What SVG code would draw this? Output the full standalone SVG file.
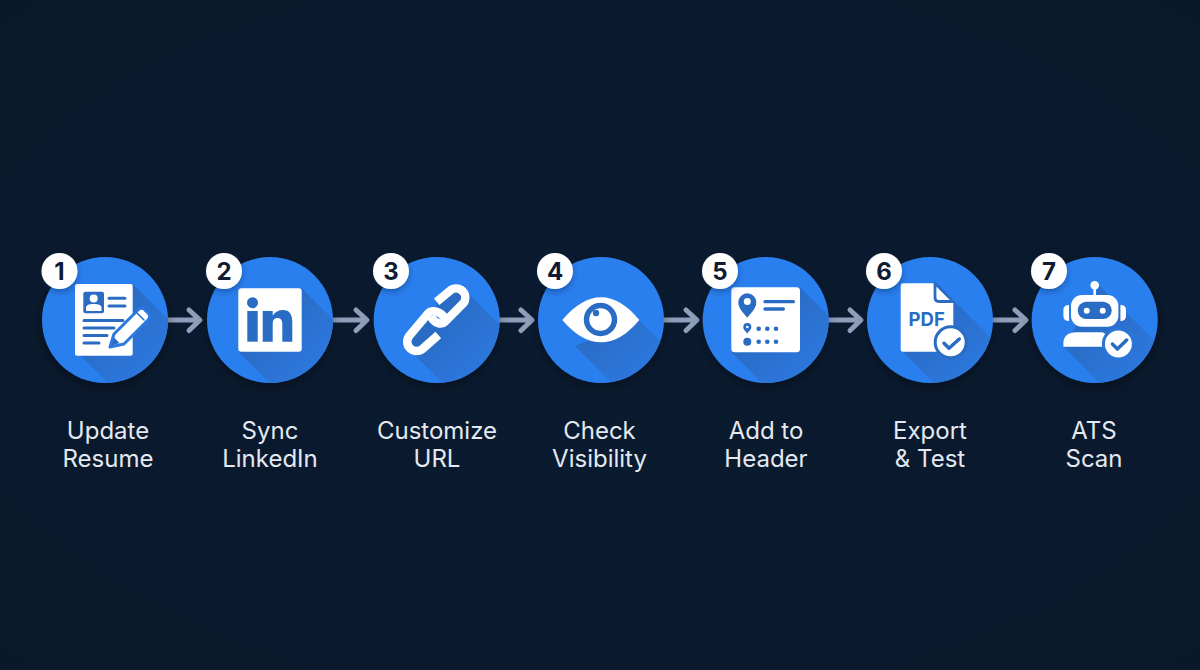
<svg xmlns="http://www.w3.org/2000/svg" width="1200" height="670" viewBox="0 0 1200 670">
<style>
.disc{fill:#2b7fee}
.ls{fill:url(#lsg)}
.w{fill:#fff}
.b{fill:#2a6cc4}
.bl{stroke:#2a6cc4;fill:none;stroke-linecap:round;stroke-linejoin:round}
.badge{fill:#fff;filter:url(#bs)}
.num{font:700 24px Inter,"Liberation Sans",sans-serif;fill:#0f1b33;text-anchor:middle}
.lab{font:400 24px Inter,"Liberation Sans",sans-serif;fill:#e4e9f1;text-anchor:middle}
.arr{fill:none;stroke:#8f9eba;stroke-width:5;stroke-linecap:round;stroke-linejoin:round}
.link{fill:none;stroke:#fff;stroke-width:8.500;stroke-linecap:butt;stroke-linejoin:round}
</style>
<defs>
<clipPath id="cc"><circle r="63"/></clipPath>
<linearGradient id="lsg" gradientUnits="userSpaceOnUse" x1="0" y1="0" x2="45" y2="45"><stop offset="0" stop-color="#2a6cc6"/><stop offset="1" stop-color="#2c77dc"/></linearGradient>
<radialGradient id="bg" cx="50%" cy="50%" r="75%"><stop offset="0" stop-color="#0a1b30"/><stop offset="1" stop-color="#0a182b"/></radialGradient>
<filter id="ds" x="-30%" y="-30%" width="160%" height="160%"><feDropShadow dx="0" dy="4" stdDeviation="6" flood-color="#000" flood-opacity=".35"/></filter>
<filter id="bs" x="-50%" y="-50%" width="200%" height="200%"><feDropShadow dx="0" dy="3" stdDeviation="3" flood-color="#06204d" flood-opacity=".4"/></filter>
</defs>
<rect width="1200" height="670" fill="url(#bg)"/>
<g id="connectors" class="arr">
<path d="M168 320H199M189 310l11 10-11 10.500"/>
<path d="M333 320H366M356 310l11 10-11 10.500"/>
<path d="M500 320H531M521 310l11 10-11 10.500"/>
<path d="M664 320H696M686 310l11 10-11 10.500"/>
<path d="M829 320H860M850 310l11 10-11 10.500"/>
<path d="M993 320H1025M1015 310l11 10-11 10.500"/>
</g>

<g id="node-1">
<g transform="translate(105 320)">
<circle class="disc" r="63" filter="url(#ds)"/>
<path class="ls" clip-path="url(#cc)" d="M27.700 -36L127.700 64L74 134L-26 34Z"/>
<rect class="w" x="-30" y="-36" width="57.700" height="71.700" rx="2"/>
<rect class="b" x="-21.700" y="-28.300" width="20.700" height="21.600" rx="2"/>
<circle class="w" cx="-11.300" cy="-21.500" r="4"/>
<path class="w" d="M-19 -9V-12C-19 -15.500 -15 -16 -11.300 -16S-3.500 -15.500 -3.500 -12V-9Z"/>
<path class="bl" stroke-width="3" d="M4 -21.700H20M4 -14H20M-21 0.500H18M-21 8H9M-21 15.500H2M-21 23H-6"/>
<path d="M5 27L9 14L33 -10C35 -12 38 -12 40 -10L43 -7C45 -5 45 -2 43 0L19 24Z" fill="#fff" stroke="#2b78e0" stroke-width="3" stroke-linejoin="round"/>
<path class="b" d="M6.500 25.500L9 17.500L14.500 23Z"/>
<path class="bl" stroke-width="1.500" d="M32 -7L39 0"/>
</g>
<circle class="badge" cx="59.500" cy="271" r="18"/>
<text class="num" x="59.500" y="280">1</text>
<text class="lab"><tspan x="108" y="439">Update</tspan><tspan x="108" y="467">Resume</tspan></text>
</g>

<g id="node-2">
<g transform="translate(270 320)">
<circle class="disc" r="63" filter="url(#ds)"/>
<path class="ls" clip-path="url(#cc)" d="M31.700 -31.700L131.700 68.300L68.300 131.700L-31.700 31.700Z"/>
<rect class="w" x="-31.700" y="-31.700" width="63.400" height="63.400" rx="3"/>
<circle class="b" cx="-17.500" cy="-17.300" r="5.500"/>
<rect class="b" x="-22.700" y="-9" width="10.400" height="30.700"/>
<path class="b" d="M-7.300 21.700V-9H2.700V-4.500C5 -8 8.500 -10 13 -10C19.500 -10 22.300 -5.500 22.300 2V21.700H12.300V4C12.300 0 10.500 -2 7.500 -2C4.500 -2 2.700 0 2.700 4V21.700Z"/>
</g>
<circle class="badge" cx="224" cy="271" r="18"/>
<text class="num" x="224" y="280">2</text>
<text class="lab"><tspan x="270" y="439">Sync</tspan><tspan x="270" y="467">LinkedIn</tspan></text>
</g>

<g id="node-3">
<g transform="translate(436.700 320)">
<circle class="disc" r="63" filter="url(#ds)"/>
<path class="ls" clip-path="url(#cc)" d="M28 -30L128 70L78 135L-22 35Z"/>
<path class="b" d="M0 -18.300L13.300 -29.300A9.200 9.200 0 0 1 26.600 -16.700L8.300 1.700L0 -4Z"/>
<path class="b" d="M1.600 15L-13.400 28.300A9.400 9.400 0 0 1 -26.700 15L-8.400 -6.700L0 0Z"/>
<path class="link" d="M0 -18.300L13.300 -29.300A9.200 9.200 0 0 1 26.600 -16.700L8.300 1.700C5 5 -2 4 -5.700 -3.300"/>
<path class="link" d="M1.600 15L-13.400 28.300A9.400 9.400 0 0 1 -26.700 15L-8.400 -6.700C-4 -11 4 -8 8.300 -1.700"/>
</g>
<circle class="badge" cx="391" cy="271" r="18"/>
<text class="num" x="391" y="280">3</text>
<text class="lab"><tspan x="437" y="439">Customize</tspan><tspan x="437" y="467">URL</tspan></text>
</g>

<g id="node-4">
<g transform="translate(601 320)">
<circle class="disc" r="63" filter="url(#ds)"/>
<path class="ls" clip-path="url(#cc)" d="M38 0L138 100L74 126L-26 26Z"/>
<path class="w" d="M-38.700 0C-26 -15 -13 -22.700 0 -22.700S26 -15 38.300 0C26 15 13 22.300 0 22.300S-26 15 -38.700 0Z"/>
<circle cx="-0.500" cy="-0.500" r="14" fill="#fff" stroke="#2a6cc4" stroke-width="5.500"/>
<circle class="b" cx="-5" cy="-7" r="3.200"/>
</g>
<circle class="badge" cx="555" cy="271" r="18"/>
<text class="num" x="555" y="280">4</text>
<text class="lab"><tspan x="599.500" y="439">Check</tspan><tspan x="599.500" y="467">Visibility</tspan></text>
</g>

<g id="node-5">
<g transform="translate(765.700 320)">
<circle class="disc" r="63" filter="url(#ds)"/>
<path class="ls" clip-path="url(#cc)" d="M34.300 -32.700L134.300 67.300L65.600 132.300L-34.400 32.300Z"/>
<rect class="w" x="-34.400" y="-32.700" width="68.700" height="65" rx="3.500"/>
<path class="b" d="M-18.400 -2.300C-22 -7 -27.400 -11 -27.400 -17.700A9 9 0 0 1 -9.400 -17.700C-9.400 -11 -15 -7 -18.400 -2.300Z"/>
<circle class="w" cx="-18.400" cy="-18.500" r="3.500"/>
<path class="bl" stroke-width="3.300" d="M-0.700 -18.300H27.700M-0.700 -11H17.700"/>
<path class="b" d="M-18.400 13.500C-20 11 -22.400 10 -22.400 7A4 4 0 0 1 -14.400 7C-14.400 10 -17 11 -18.400 13.500Z"/>
<circle class="w" cx="-18.400" cy="7" r="1.300"/>
<circle class="b" cx="-18.400" cy="21.700" r="4"/>
<g class="b"><circle cx="-7" cy="8.700" r="2.300"/><circle cx="1.600" cy="8.700" r="2.300"/><circle cx="10.300" cy="8.700" r="2.300"/><circle cx="-7" cy="21.700" r="2.300"/><circle cx="1.600" cy="21.700" r="2.300"/><circle cx="10.300" cy="21.700" r="2.300"/></g>
</g>
<circle class="badge" cx="720" cy="271" r="18"/>
<text class="num" x="720" y="280">5</text>
<text class="lab"><tspan x="766" y="439">Add to</tspan><tspan x="766" y="467">Header</tspan></text>
</g>

<g id="node-6">
<g transform="translate(930 320)">
<circle class="disc" r="63" filter="url(#ds)"/>
<path class="ls" clip-path="url(#cc)" d="M23.300 -20L123.300 80L73 132L-27 32Z"/>
<path class="w" d="M-27 -36.700H5L23.300 -20V31.700H-27Q-29.300 31.700 -29.300 29.400V-34.400Q-29.300 -36.700 -27 -36.700Z"/>
<path d="M5 -36.700V-23Q5 -18.500 9 -18.500H23.300Z" fill="#fff" stroke="#2a6cc4" stroke-width="2.800" stroke-linejoin="round"/>
<text x="-3.300" y="5.500" text-anchor="middle" style="font:700 18.500px Inter,'Liberation Sans',sans-serif;fill:#2a6cc4">PDF</text>
<circle cx="20.700" cy="22.300" r="15.500" fill="#fff" stroke="#2a6cc4" stroke-width="3"/>
<path class="bl" stroke-width="3.500" d="M14 23.300L19 28.300L29.300 19"/>
</g>
<circle class="badge" cx="884" cy="271" r="18"/>
<text class="num" x="884" y="280">6</text>
<text class="lab"><tspan x="930" y="439">Export</tspan><tspan x="930" y="467">&amp; Test</tspan></text>
</g>

<g id="node-7">
<g transform="translate(1094.700 320)">
<circle class="disc" r="63" filter="url(#ds)"/>
<path class="ls" clip-path="url(#cc)" d="M5 -34L105 66L69 127L-31.300 26.700Z"/>
<circle class="w" cy="-34.700" r="4.300"/>
<rect class="w" x="-1.300" y="-32" width="2.600" height="8"/>
<rect class="w" x="-23.700" y="-25" width="47.400" height="31.700" rx="11"/>
<path class="w" d="M-25.700 -15V1Q-31.300 1 -31.300 -4V-10Q-31.300 -15 -25.700 -15ZM25.700 -15V1Q31.300 1 31.300 -4V-10Q31.300 -15 25.700 -15Z"/>
<rect class="b" x="-17" y="-18.300" width="34" height="17.300" rx="8.600"/>
<circle class="w" cx="-8" cy="-9.300" r="3"/><circle class="w" cx="8" cy="-9.300" r="3"/>
<path class="w" d="M-31.300 26.700V23C-31.300 16 -26 12.300 -19 12.300H6Q11.700 12.300 11.700 18V26.700Z"/>
<circle cx="23.700" cy="24" r="15" fill="#fff" stroke="#2b74d8" stroke-width="3"/>
<path class="bl" stroke-width="3.500" d="M17.700 24L22.700 29L32 20"/>
</g>
<circle class="badge" cx="1049" cy="271" r="18"/>
<text class="num" x="1049" y="280">7</text>
<text class="lab"><tspan x="1094" y="439">ATS</tspan><tspan x="1094" y="467">Scan</tspan></text>
</g>
</svg>
